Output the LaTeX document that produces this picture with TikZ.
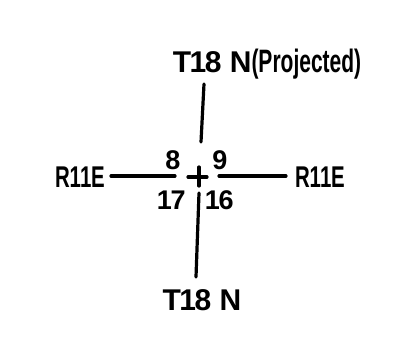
\documentclass[tikz,border=0pt]{standalone}
\usepackage{fontspec}
\usepackage{graphicx}
\setmainfont{Liberation Sans}
\newcommand{\bigtxt}{\fontsize{30}{32}\selectfont\bfseries}
\newcommand{\numtxt}{\fontsize{27}{30}\selectfont\bfseries}
\newcommand{\onee}{\kern-1.5pt1\kern-1.5pt}
\newcommand{\onen}{\kern-0.5pt1\kern-0.5pt}
\begin{document}
\begin{tikzpicture}[x=1pt,y=-1pt,
  lbl/.style={inner sep=0pt, anchor=center},
  ln/.style={line width=3.2pt, line cap=round}]
\useasboundingbox (0,0) rectangle (416,348);
% labels
\node[lbl] (top) at (267,64) {\bigtxt T\onee8 N\scalebox{0.7}[1.08]{(Projected)}};
\node[lbl] (bot) at (202,300) {\bigtxt T\onee8 N};
\node[lbl] (left) at (80,177) {\bigtxt\scalebox{0.68}[1]{R\onen\onen E}};
\node[lbl] (right) at (320,177) {\bigtxt\scalebox{0.68}[1]{R\onen\onen E}};
\node[lbl] (n8) at (173,160) {\numtxt 8};
\node[lbl] (n9) at (220,160) {\numtxt 9};
\node[lbl] (n17) at (172,200) {\numtxt\onee7};
\node[lbl] (n16) at (220,200) {\numtxt\onee6};
% line end points
\coordinate (ltA) at (111,176);
\coordinate (ltB) at (175,176);
\coordinate (rtA) at (219,176);
\coordinate (rtB) at (286,176);
\coordinate (upA) at (204,84);
\coordinate (upB) at (201,142);
\coordinate (dnA) at (199,193);
\coordinate (dnB) at (196,277);
\coordinate (cxL) at (188,177);
\coordinate (cxR) at (207,177);
\coordinate (cxT) at (199,167);
\coordinate (cxB) at (199,186);
% connectors
\draw[ln] (ltA) -- (ltB);
\draw[ln] (rtA) -- (rtB);
\draw[ln] (upA) -- (upB);
\draw[ln] (dnA) -- (dnB);
\draw[ln] (cxL) -- (cxR);
\draw[ln] (cxT) -- (cxB);
\end{tikzpicture}
\end{document}
